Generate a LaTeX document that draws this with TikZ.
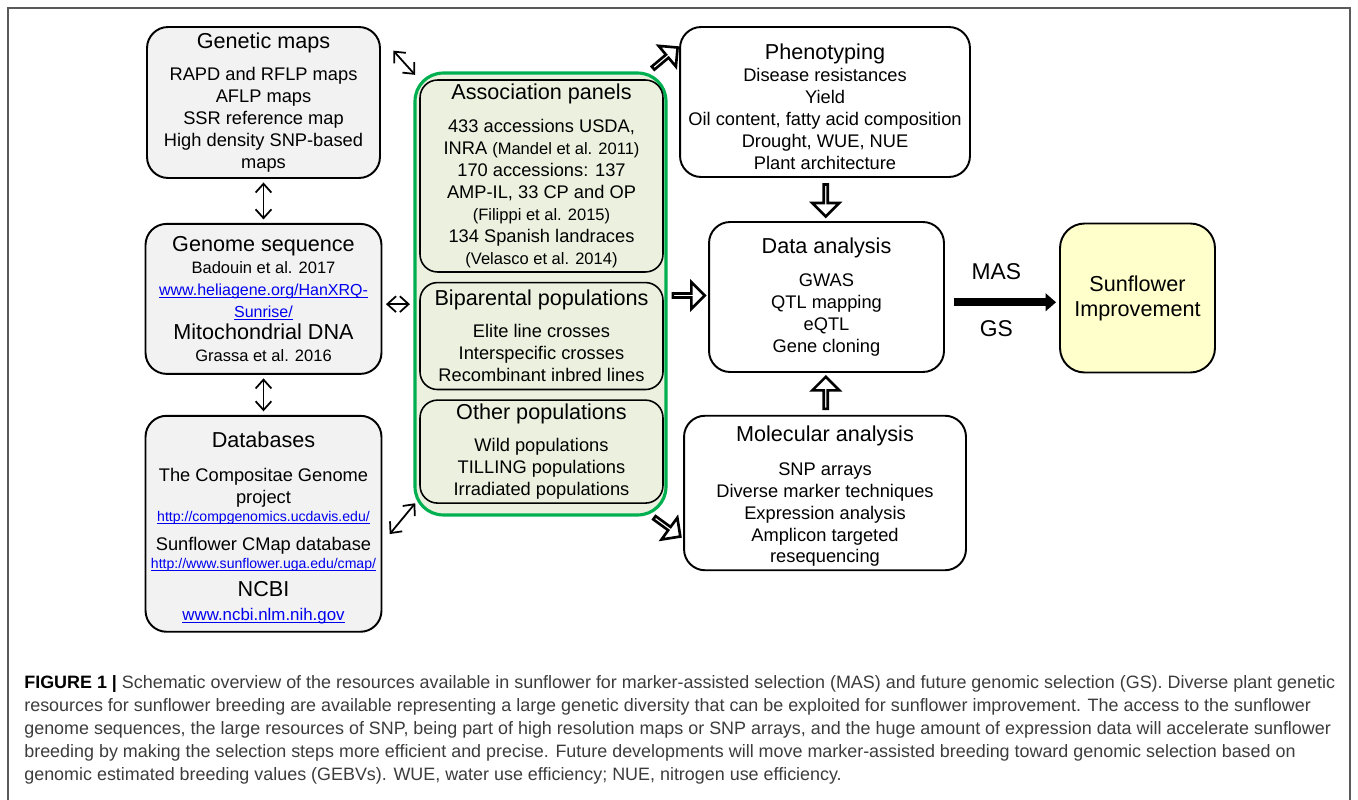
\documentclass[tikz,border=0pt]{standalone}
\usepackage{fontspec}
\setmainfont{Liberation Sans}
\usepackage{xcolor}
\usetikzlibrary{arrows.meta,positioning,shapes.arrows,calc}

\definecolor{boxgray}{RGB}{242,242,242}
\definecolor{panelgreen}{RGB}{235,241,222}
\definecolor{grpgreen}{RGB}{0,176,80}
\definecolor{improveyellow}{RGB}{255,255,204}
\definecolor{linkblue}{RGB}{0,0,238}
\definecolor{captiongray}{RGB}{60,60,60}
\definecolor{framegray}{RGB}{90,90,90}

\newcommand{\bodyfont}{\fontsize{10.4}{12.5}\selectfont}
\newcommand{\boxtitle}[1]{{\fontsize{12.3}{14}\selectfont #1}}
\newcommand{\smalltxt}[1]{{\fontsize{9.4}{11}\selectfont #1}}
\newcommand{\weblink}[2]{{\fontsize{#1}{#1}\selectfont\color{linkblue}%
  \setbox0=\hbox{#2}\rlap{\rule[-1.3pt]{\wd0}{0.45pt}}\box0}}

\tikzset{
  gray box/.style   = {draw, line width=1.1pt, rounded corners=12pt,
                        fill=boxgray, align=center, font=\bodyfont,
                        inner sep=2pt},
  panel box/.style  = {draw, line width=0.9pt, rounded corners=10pt,
                        fill=panelgreen, align=center, font=\bodyfont,
                        inner sep=2pt},
  group box/.style  = {draw=grpgreen, line width=1.8pt, rounded corners=16pt,
                        fill=panelgreen},
  white box/.style  = {draw, line width=1.1pt, rounded corners=12pt,
                        fill=white, align=center, font=\bodyfont,
                        inner sep=2pt},
  goal box/.style   = {draw, line width=1.1pt, rounded corners=14pt,
                        fill=improveyellow, align=center,
                        font=\fontsize{12.3}{14.2}\selectfont},
  link arrow/.style = {{Straight Barb[length=5pt,width=9pt]}-{Straight Barb[length=5pt,width=9pt]},
                        line width=1pt, shorten <=2pt, shorten >=2pt},
  hollow arrow/.style = {draw, single arrow, fill=white, line width=1.5pt,
                        inner sep=0pt, minimum height=0.64cm,
                        minimum width=0.54cm, single arrow head extend=0.15cm},
  mas arrow/.style  = {-{Triangle[length=6pt,width=10pt]}, line width=4.3pt},
  frame line/.style = {draw=framegray, line width=0.8pt},
  caption text/.style = {align=left, inner sep=0pt, text=captiongray,
                        font=\fontsize{10.2}{13.1}\selectfont},
}

\begin{document}
\begin{tikzpicture}[x=0.02cm, y=-0.02cm]
  \useasboundingbox (0,0) rectangle (1358,800);
  \fill[white] (0,0) rectangle (1358,800);
  \draw[frame line] (8,800) -- (8,8) -- (1350,8) -- (1350,800);

  %% --- resources (left column)
  \node[gray box, minimum width=4.66cm, minimum height=3.02cm] (genmap)
    at (263.5,102.5)
    {\boxtitle{Genetic maps}\\[6pt]
     RAPD and RFLP maps\\ AFLP maps\\ SSR reference map\\
     High density SNP-based\\ maps};
  \node[gray box, minimum width=4.72cm, minimum height=3cm,
        below=0.88cm of genmap] (genome)
    {\boxtitle{Genome sequence}\\
     \smalltxt{Badouin et al. 2017}\\
     \weblink{9.1}{www.heliagene.org/HanXRQ-}\\
     \weblink{9.1}{Sunrise/}\\
     \boxtitle{Mitochondrial DNA}\\
     \smalltxt{Grassa et al. 2016}};
  \node[gray box, minimum width=4.72cm, minimum height=4.32cm,
        below=0.8cm of genome] (db)
    {\rule{0pt}{14pt}\boxtitle{Databases}\\[6.5pt]
     The Compositae Genome\\ project\\[-2.3pt]
     \weblink{8}{http://compgenomics.ucdavis.edu/}\\[4.5pt]
     Sunflower CMap database\\[-2.3pt]
     \weblink{8}{http://www.sunflower.uga.edu/cmap/}\\[3.4pt]
     \boxtitle{NCBI}\\[1.2pt]
     \weblink{9.6}{www.ncbi.nlm.nih.gov}};

  %% --- populations (green group)
  \node[group box, minimum width=5.02cm, minimum height=8.84cm] (grp)
    at (540.5,294) {};
  \node[panel box, minimum width=4.86cm, minimum height=3.84cm] (assoc)
    at (541.5,176)
    {\boxtitle{Association panels}\\[6.5pt]
     433 accessions USDA,\\
     INRA \smalltxt{(Mandel et al. 2011)}\\
     170 accessions: 137\\
     AMP-IL, 33 CP and OP\\
     \smalltxt{(Filippi et al. 2015)}\\
     134 Spanish landraces\\
     \smalltxt{(Velasco et al. 2014)}};
  \node[panel box, minimum width=4.86cm, minimum height=2.14cm,
        below=0.18cm of assoc] (bip)
    {\boxtitle{Biparental populations}\\[5.7pt]
     Elite line crosses\\ Interspecific crosses\\ Recombinant inbred lines};
  \node[panel box, minimum width=4.86cm, minimum height=2.06cm,
        below=0.18cm of bip] (other)
    {\boxtitle{Other populations}\\[5.7pt]
     Wild populations\\ TILLING populations\\ Irradiated populations};

  %% --- analyses (right column)
  \node[white box, minimum width=5.8cm, minimum height=3cm] (pheno)
    at (825,102)
    {\rule{0pt}{14.7pt}\boxtitle{Phenotyping}\\
     Disease resistances\\ Yield\\ Oil content, fatty acid composition\\
     Drought, WUE, NUE\\ Plant architecture};
  \node[white box, minimum width=4.7cm, minimum height=3cm] (data)
    at (826.5,297)
    {\boxtitle{Data analysis}\\[6.8pt]
     GWAS\\ QTL mapping\\ eQTL\\ Gene cloning};
  \node[white box, minimum width=5.64cm, minimum height=3cm] (mol)
    at (825,493)
    {\rule{0pt}{12.5pt}\boxtitle{Molecular analysis}\\[6.8pt]
     SNP arrays\\ Diverse marker techniques\\ Expression analysis\\
     Amplicon targeted\\ resequencing};
  \node[goal box, minimum width=3.1cm, minimum height=2.98cm] (improve)
    at (1137.5,298) {Sunflower\\ Improvement};

  %% links between resources
  \draw[link arrow] (genmap.south) -- (genome.north);
  \draw[link arrow] (genome.south) -- (db.north);
  \draw[link arrow] ([yshift=-3pt]genome.east) -- ([yshift=-3pt]genome.east -| grp.west);
  \draw[link arrow] ([shift={(10,22)}]genmap.north east)
    -- ([shift={(4,6)}]grp.north west);
  \draw[link arrow] ([shift={(5,13)}]db.east)
    -- ([shift={(4,-16)}]grp.south west);

  %% hollow arrows
  \node[hollow arrow, rotate=40] (toPheno) at ([shift={(-3,-13)}]grp.north east) {};
  \node[hollow arrow] (toData) at ($(grp.east)!0.5!(data.west)$) {};
  \node[hollow arrow, rotate=-36] (toMol) at ([shift={(-1,10)}]grp.south east) {};
  \node[hollow arrow, rotate=-90] (phenoData) at ($(pheno.south)!0.5!(data.north)$) {};
  \node[hollow arrow, rotate=90] (molData) at ($(mol.north)!0.5!(data.south)$) {};

  %% selection
  \draw[mas arrow, shorten <=0.18cm, shorten >=0.06cm]
    ([yshift=-3pt]data.east) -- ([yshift=-3pt]data.east -| improve.west)
    node[pos=0.45, above=0.25cm, font=\fontsize{13}{15}\selectfont] (mas) {MAS}
    node[pos=0.45, below=0.17cm, font=\fontsize{13}{15}\selectfont] (gs) {GS};

  %% caption
  \node[caption text, anchor=north west] (caption) at (24,675)
    {\textcolor{black}{\textbf{FIGURE 1 |}} Schematic overview of the resources available in sunflower for marker-assisted selection (MAS) and future genomic selection (GS). Diverse plant genetic\\
     resources for sunflower breeding are available representing a large genetic diversity that can be exploited for sunflower improvement. The access to the sunflower\\
     genome sequences, the large resources of SNP, being part of high resolution maps or SNP arrays, and the huge amount of expression data will accelerate sunflower\\
     breeding by making the selection steps more efficient and precise. Future developments will move marker-assisted breeding toward genomic selection based on\\
     genomic estimated breeding values (GEBVs). WUE, water use efficiency; NUE, nitrogen use efficiency.};
\end{tikzpicture}
\end{document}
